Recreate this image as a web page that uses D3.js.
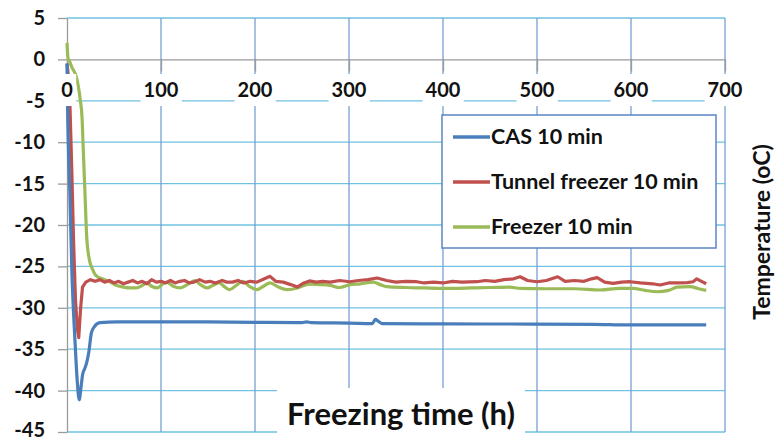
<!DOCTYPE html>
<html>
<head>
<meta charset="utf-8">
<script src="https://cdn.jsdelivr.net/npm/d3@7"></script>
<style>
  body { margin: 0; background: #fff; }
  svg { display: block; font-family: Lato, "Open Sans", sans-serif; }
</style>
</head>
<body>
<svg id="chart" width="781" height="441"></svg>
<script>
// ticks
var xTicks = [0, 100, 200, 300, 400, 500, 600, 700];
var yTicks = [5, 0, -5, -10, -15, -20, -25, -30, -35, -40, -45];

// series names
var seriesNames = ["CAS 10 min", "Tunnel freezer 10 min", "Freezer 10 min"];

// CAS 10 min  [hours, temperature]
var casData = [
  [0, -0.5], [0.5, -5], [3, -16], [5.3, -26], [8.5, -34], [11, -39], [13, -41.1],
  [15, -39.5], [16.7, -38], [19, -37.3], [21, -36.6], [23, -35.5], [26, -33],
  [29, -32.3], [35, -31.8], [53, -31.7], [100, -31.7], [141, -31.7], [200, -31.75],
  [250, -31.8], [255, -31.7], [260, -31.8], [300, -31.85], [325, -31.9], [328, -31.4],
  [331, -31.6], [335, -31.9], [400, -31.95], [496, -31.96], [560, -32.0], [600, -32.07],
  [680, -32.07]
];

// Tunnel freezer 10 min
var tunnelData = [
  [0, -0.5], [1, -1.5], [3, -5], [5, -13], [7, -22], [9, -29], [11, -32.5], [12.5, -33.6],
  [14.5, -30], [16.5, -27.5], [20, -26.9], [25, -26.6], [30, -26.8], [35, -26.6], [40, -26.9],
  [45, -26.7], [50, -27.0], [55, -26.8], [60, -27.1], [65, -26.9], [70, -26.7], [75, -27.0],
  [80, -26.8], [85, -27.1], [90, -26.6], [95, -26.9], [100, -26.8], [105, -27.0], [110, -26.7],
  [115, -27.0], [120, -26.8], [125, -26.7], [130, -27.0], [135, -26.9], [141, -26.6],
  [147, -26.9], [152, -26.8], [158, -27.0], [165, -26.7], [170, -26.9], [176, -26.9],
  [182, -26.7], [188, -27.0], [195, -26.8], [202, -26.9], [210, -26.5], [216, -26.2],
  [222, -26.8], [230, -26.9], [238, -27.2], [245, -27.5], [252, -27.0], [258, -26.75],
  [265, -26.9], [272, -26.8], [280, -26.9], [290, -26.7], [301, -26.85], [310, -26.7],
  [320, -26.6], [330, -26.4], [340, -26.7], [350, -26.9], [360, -26.8], [372, -26.85],
  [380, -27.0], [390, -26.9], [400, -27.0], [410, -26.8], [420, -26.9], [436, -26.85],
  [445, -26.7], [455, -26.8], [465, -26.6], [475, -26.5], [482, -26.25], [490, -26.7],
  [500, -26.85], [510, -26.7], [522, -26.25], [530, -26.8], [540, -26.7], [550, -26.8],
  [558, -26.5], [564, -26.35], [572, -26.9], [581, -27.05], [590, -26.9], [599, -26.85],
  [610, -27.0], [623, -27.1], [631, -27.25], [640, -27.0], [649, -27.0], [660, -26.95],
  [666, -26.85], [670, -26.5], [675, -26.8], [680, -27.1]
];

// Freezer 10 min
var freezerData = [
  [0, 2.0], [1, 0.2], [3, -0.3], [5, -0.9], [9, -1.8], [12, -3.2], [14, -4.8], [16, -7],
  [17, -10], [19, -15.8], [21, -21.5], [24, -24.3], [27, -25.3], [30, -26], [33, -26.3],
  [40, -26.6], [46, -26.9], [53, -27.3], [60, -27.5], [67, -27.6], [74, -27.6], [80, -27.3],
  [85, -27.0], [90, -27.4], [96, -27.6], [101, -27.2], [106, -26.9], [113, -27.4],
  [120, -27.6], [128, -27.2], [136, -26.7], [142, -27.2], [149, -27.6], [155, -27.3],
  [162, -27.0], [168, -27.5], [173, -27.8], [180, -27.3], [187, -26.8], [194, -27.4],
  [202, -27.8], [209, -27.4], [216, -27.0], [225, -27.5], [234, -27.8], [245, -27.6],
  [252, -27.3], [258, -27.15], [270, -27.2], [280, -27.3], [290, -27.55], [301, -27.2],
  [312, -27.1], [326, -26.9], [333, -27.2], [340, -27.45], [360, -27.55], [380, -27.6],
  [400, -27.65], [430, -27.6], [450, -27.55], [471, -27.5], [482, -27.65], [510, -27.7],
  [540, -27.7], [567, -27.85], [588, -27.65], [602, -27.65], [615, -27.9], [628, -28.06],
  [640, -27.9], [649, -27.5], [663, -27.45], [672, -27.7], [680, -27.9]
];

var seriesColors = ["#4a7ebb", "#c0504d", "#9bbb59"];

var svg = d3.select("#chart");

var x = d3.scaleLinear().domain([0, 700]).range([67, 725]);
var y = d3.scaleLinear().domain([-45, 5]).range([432, 18]);

// gridlines
svg.append("g")
    .selectAll("line")
    .data(yTicks.filter(function(d) { return d !== 0; }))
    .enter()
    .append("line")
    .attr("x1", x(0))
    .attr("x2", x(700))
    .attr("y1", function(d) { return y(d); })
    .attr("y2", function(d) { return y(d); })
    .attr("stroke", "#6fc2e2")
    .attr("stroke-width", 1.3);

svg.append("g")
    .selectAll("line")
    .data(xTicks.filter(function(d) { return d !== 0; }))
    .enter()
    .append("line")
    .attr("x1", function(d) { return x(d); })
    .attr("x2", function(d) { return x(d); })
    .attr("y1", y(5))
    .attr("y2", y(-45))
    .attr("stroke", "#76a0d6")
    .attr("stroke-width", 1.3);

// y axis
var yAxis = svg.append("g")
    .attr("transform", "translate(" + x(0) + ",0)")
    .call(d3.axisLeft(y)
        .tickValues(yTicks)
        .tickSize(9)
        .tickSizeOuter(0)
        .tickPadding(13)
        .tickFormat(function(d) { return String(d); }));
yAxis.select(".domain").attr("stroke", "#9a9a9a").attr("stroke-width", 1.3);
yAxis.selectAll(".tick line").attr("stroke", "#9a9a9a").attr("stroke-width", 1.3);
yAxis.selectAll(".tick text")
    .attr("fill", "#111")
    .attr("dy", function(d) { return d === -45 ? "0.2em" : "0.32em"; })  // bottom label sits a little higher
    .style("font-size", "20px")
    .style("font-weight", "bold")
    .style("font-family", "Lato, sans-serif");

// x axis through zero
var xAxis = svg.append("g")
    .attr("transform", "translate(0," + y(0) + ")")
    .call(d3.axisBottom(x)
        .tickValues(xTicks)
        .tickSize(12)
        .tickSizeOuter(0)
        .tickFormat(""));
xAxis.select(".domain").attr("stroke", "#9a9a9a").attr("stroke-width", 1.3);
xAxis.selectAll(".tick line").attr("stroke", "#9a9a9a").attr("stroke-width", 1.3);

// series lines
var smooth = d3.line()
    .x(function(d) { return x(d[0]); })
    .y(function(d) { return y(d[1]); })
    .curve(d3.curveMonotoneX);
var jagged = d3.line()
    .x(function(d) { return x(d[0]); })
    .y(function(d) { return y(d[1]); });

var allSeries = [casData, tunnelData, freezerData];
// draw freezer first, then tunnel, then CAS on top
[2, 1, 0].forEach(function(i) {
    svg.append("path")
        .datum(allSeries[i])
        .attr("d", i === 1 ? jagged : smooth)
        .attr("fill", "none")
        .attr("stroke", seriesColors[i])
        .attr("stroke-width", 3.2)
        .attr("stroke-linejoin", "round");
});

// x tick labels with white boxes (they cover the grid)
var xLab = svg.append("g")
    .selectAll("g")
    .data(xTicks)
    .enter()
    .append("g");
xLab.append("text")
    .attr("x", function(d) { return x(d); })
    .attr("y", 97)
    .attr("text-anchor", "middle")
    .style("font-size", "20px")
    .style("font-weight", "bold")
    .attr("fill", "#111")
    .text(function(d) { return d; });
xLab.each(function() {
    var g = d3.select(this);
    var b = g.select("text").node().getBBox();
    g.insert("rect", "text")
        .attr("x", b.x - 3)
        .attr("y", 74)
        .attr("width", b.width + 6)
        .attr("height", 32)
        .attr("fill", "#fff");
});

// legend
var legend = svg.append("g");
legend.append("rect")
    .attr("x", 442)
    .attr("y", 115)
    .attr("width", 274)
    .attr("height", 133)
    .attr("fill", "#fff")
    .attr("stroke", "#5b87c5")
    .attr("stroke-width", 1.5);

var entry = legend.selectAll("g")
    .data(seriesNames)
    .enter()
    .append("g")
    .attr("transform", function(d, i) { return "translate(0," + (137 + i * 45) + ")"; });
entry.append("line")
    .attr("x1", 453)
    .attr("x2", 490)
    .attr("stroke", function(d, i) { return seriesColors[i]; })
    .attr("stroke-width", 3.5);
entry.append("text")
    .attr("x", 491)
    .attr("y", 7)
    .style("font-size", "21.5px")
    .style("font-weight", "bold")
    .attr("fill", "#111")
    .text(function(d) { return d; });

// x title
svg.append("rect")
    .attr("x", 277)
    .attr("y", 388)
    .attr("width", 248)
    .attr("height", 53)
    .attr("fill", "#fff");
svg.append("text")
    .attr("x", 401)
    .attr("y", 425)
    .attr("text-anchor", "middle")
    .style("font-size", "31px")
    .style("font-weight", "bold")
    .attr("fill", "#111")
    .text("Freezing time (h)");

// y title on the right
svg.append("text")
    .attr("transform", "translate(770,232) rotate(-90)")
    .attr("text-anchor", "middle")
    .style("font-size", "23px")
    .style("font-weight", "bold")
    .attr("fill", "#111")
    .text("Temperature (oC)");
</script>
</body>
</html>
